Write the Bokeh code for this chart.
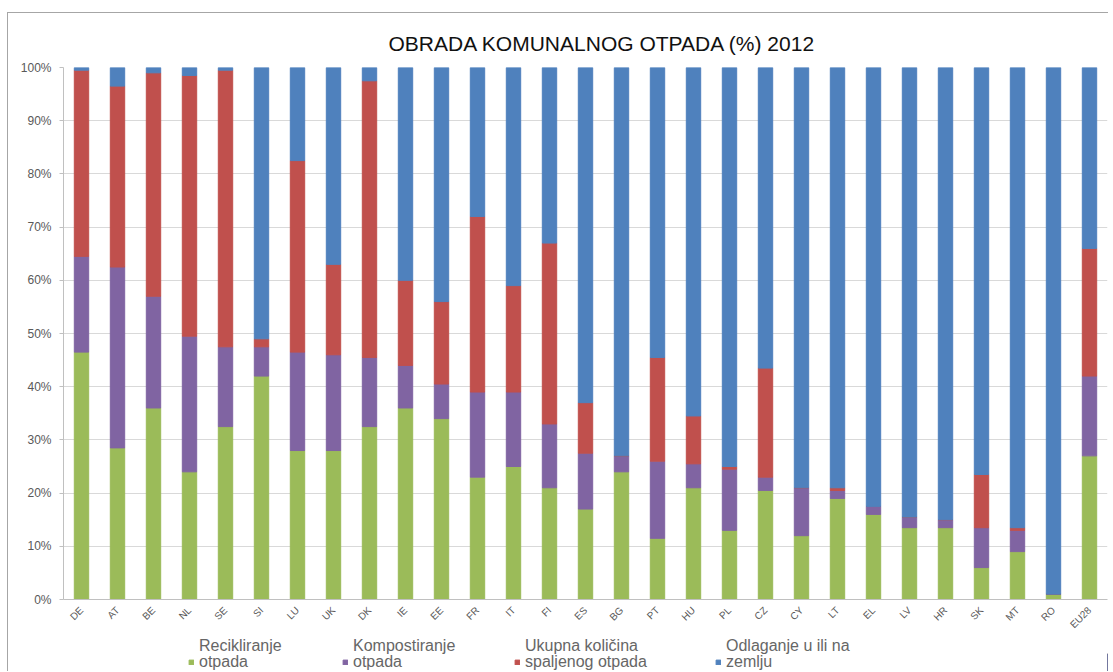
import math
from bokeh.plotting import figure
from bokeh.layouts import column
from bokeh.models import (ColumnDataSource, FactorRange, Range1d, FixedTicker,
                          CustomJSTickFormatter, Legend, LegendItem)
from bokeh.embed import file_html
from bokeh.resources import INLINE

countries = ["DE", "AT", "BE", "NL", "SE", "SI", "LU", "UK", "DK", "IE", "EE",
             "FR", "IT", "FI", "ES", "BG", "PT", "HU", "PL", "CZ", "CY", "LT",
             "EL", "LV", "HR", "SK", "MT", "RO", "EU28"]
recycling = [46.5, 28.5, 36, 24, 32.5, 42, 28, 28, 32.5, 36, 34, 23, 25, 21,
             17, 24, 11.5, 21, 13, 20.5, 12, 19, 16, 13.5, 13.5, 6, 9, 1, 27]
composting = [18, 34, 21, 25.5, 15, 5.5, 18.5, 18, 13, 8, 6.5, 16, 14, 12,
              10.5, 3, 14.5, 4.5, 11.5, 2.5, 9, 1.5, 1.5, 2, 1.5, 7.5, 4, 0, 15]
incineration = [35, 34, 42, 49, 52, 1.5, 36, 17, 52, 16, 15.5, 33, 20, 34,
                9.5, 0, 19.5, 9, 0.5, 20.5, 0, 0.5, 0, 0, 0, 10, 0.5, 0, 24]
landfill = [0.5, 3.5, 1, 1.5, 0.5, 51, 17.5, 37, 2.5, 40, 44, 28, 41, 33,
            63, 73, 54.5, 65.5, 75, 56.5, 79, 79, 82.5, 84.5, 85, 76.5, 86.5, 99, 34]

series = ["recycling", "composting", "incineration", "landfill"]
colors = ["#9BBB59", "#8064A2", "#C0504D", "#4F81BD"]
labels_line1 = ["Recikliranje", "Kompostiranje", "Ukupna količina", "Odlaganje u ili na"]
labels_line2 = ["otpada", "otpada", "spaljenog otpada", "zemlju"]
legend_x = [125, 279, 451, 652]
title_text = "OBRADA KOMUNALNOG OTPADA (%) 2012"
y_ticks = list(range(0, 101, 10))

source = ColumnDataSource(dict(country=countries, recycling=recycling,
                               composting=composting, incineration=incineration,
                               landfill=landfill))

p = figure(x_range=FactorRange(*countries, range_padding=0),
           y_range=Range1d(0, 100), width=1100, height=623,
           output_backend="svg", toolbar_location=None,
           min_border_left=55, min_border_right=1, min_border_top=54,
           min_border_bottom=30)

rs = p.vbar_stack(series, x="country", width=0.4, color=colors, source=source)

p.title.text = title_text
p.title.text_font = "Liberation Sans"
p.title.text_font_size = "21px"
p.title.text_font_style = "normal"
p.title.text_color = "#111111"
p.title.align = "left"
p.title.offset = 325
p.title.standoff = 25

p.outline_line_color = None
p.xgrid.grid_line_color = None
p.ygrid.grid_line_color = "#d9d9d9"

p.yaxis.ticker = FixedTicker(ticks=y_ticks)
p.yaxis.formatter = CustomJSTickFormatter(code="return tick + '%';")
p.yaxis.axis_line_color = "#c0c0c0"
p.yaxis.major_tick_line_color = "#c0c0c0"
p.yaxis.major_tick_out = 4
p.yaxis.major_tick_in = 0
p.yaxis.minor_tick_line_color = None
p.yaxis.major_label_standoff = 8
p.yaxis.major_label_text_font = "Liberation Sans"
p.yaxis.major_label_text_font_size = "12px"
p.yaxis.major_label_text_color = "#595959"

p.xaxis.axis_line_color = "#c0c0c0"
p.xaxis.major_tick_line_color = None
p.xaxis.major_label_orientation = math.pi / 4
p.xaxis.major_label_text_font = "Liberation Sans"
p.xaxis.major_label_text_font_size = "10px"
p.xaxis.major_label_text_color = "#595959"
p.xaxis.major_label_standoff = 3

# legend strip below the chart
lp = figure(width=1100, height=35, output_backend="svg", toolbar_location=None,
            min_border=0, x_range=Range1d(0, 1), y_range=Range1d(0, 1),
            x_axis_location=None, y_axis_location=None)
lp.outline_line_color = None
lp.xgrid.visible = False
lp.ygrid.visible = False
common = dict(label_text_font="Liberation Sans", label_text_font_size="16px",
              label_text_color="#666666", glyph_width=6, glyph_height=6,
              label_standoff=5, border_line_color=None,
              background_fill_alpha=0, padding=0, margin=0)
for i in range(4):
    r_hidden = lp.vbar(x=[5], top=[0.5], width=0.1, color=colors[i],
                       fill_alpha=0, line_alpha=0)
    r = lp.vbar(x=[5], top=[0.5], width=0.1, color=colors[i])
    lp.add_layout(Legend(items=[LegendItem(label=labels_line1[i], renderers=[r_hidden])],
                         location=(legend_x[i], 16), **common))
    lp.add_layout(Legend(items=[LegendItem(label=labels_line2[i], renderers=[r])],
                         location=(legend_x[i], 0), **common))

layout = column(p, lp, spacing=0)
layout.styles = {"margin-top": "12px", "margin-left": "7px",
                 "border-top": "1px solid #a6a6a6",
                 "border-left": "1px solid #a6a6a6"}

open("out.html", "w").write(file_html(layout, INLINE))
